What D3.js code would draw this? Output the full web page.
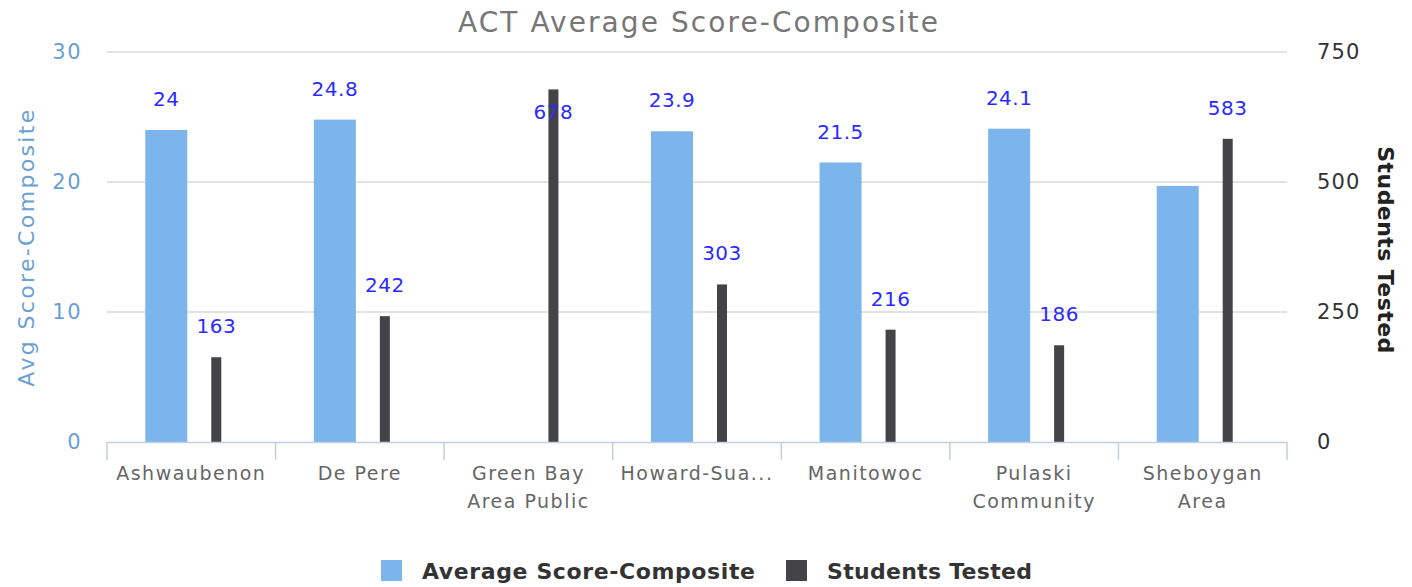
<!DOCTYPE html>
<html>
<head>
<meta charset="utf-8">
<script src="https://cdn.jsdelivr.net/npm/d3@7"></script>
<style>
  html, body { margin: 0; padding: 0; background: #fff; }
  svg { display: block; font-family: "DejaVu Sans", "Open Sans", sans-serif; }
</style>
</head>
<body>
<svg id="chart" width="1412" height="587"></svg>
<script>
// ---- data ----
const categories = ["Ashwaubenon", "De Pere", "Green Bay Area Public", "Howard-Suamico", "Manitowoc", "Pulaski Community", "Sheboygan Area"];
const avgScore = [24, 24.8, null, 23.9, 21.5, 24.1, 19.7];
const avgScoreLabelShown = [true, true, false, true, true, true, false];
const studentsTested = [163, 242, 678, 303, 216, 186, 583];
const leftTicks = [0, 10, 20, 30];
const rightTicks = [0, 250, 500, 750];
const seriesNames = ["Average Score-Composite", "Students Tested"];
const title = "ACT Average Score-Composite";
const leftAxisTitle = "Avg Score-Composite";
const rightAxisTitle = "Students Tested";

// ---- layout/style ----
const plot = { left: 107, right: 1287, top: 52, bottom: 442 };
const colors = { avg: "#7cb5ec", students: "#434348", label: "#2b2bff", leftAxis: "#6a9fd4", grid: "#d9d9d9", axisLine: "#c0d0e0" };

const svg = d3.select("#chart");

// stretch text to a target width with letter-spacing
function fitWidth(sel, target) {
  const node = sel.node();
  const n = sel.text().length;
  const w = node.getComputedTextLength();
  sel.attr("letter-spacing", ((target - w) / Math.max(1, n - 1)).toFixed(2));
  return sel;
}

const x = d3.scaleBand().domain(categories).range([plot.left, plot.right]).padding(0);
const xs = d3.scaleBand().domain(seriesNames).range([0, x.bandwidth()]).paddingInner(0).paddingOuter(0.686);
const yL = d3.scaleLinear().domain([0, 30]).range([plot.bottom, plot.top]);
const yR = d3.scaleLinear().domain([0, 750]).range([plot.bottom, plot.top]);

// gridlines
svg.append("g").selectAll("line").data(leftTicks.filter(t => t > 0)).join("line")
  .attr("x1", plot.left).attr("x2", plot.right)
  .attr("y1", d => yL(d)).attr("y2", d => yL(d))
  .attr("stroke", colors.grid).attr("stroke-width", 1.5);

// left axis
const gL = svg.append("g").attr("transform", `translate(${plot.left},0)`)
  .call(d3.axisLeft(yL).tickValues(leftTicks).tickSize(0).tickPadding(25));
gL.select(".domain").remove();
gL.selectAll("text").attr("fill", colors.leftAxis).attr("font-size", 21).attr("letter-spacing", 1.5).attr("font-family", "DejaVu Sans");

// right axis
const gR = svg.append("g").attr("transform", `translate(${plot.right},0)`)
  .call(d3.axisRight(yR).tickValues(rightTicks).tickSize(0).tickPadding(30));
gR.select(".domain").remove();
gR.selectAll("text").attr("fill", "#333").attr("font-size", 21).attr("letter-spacing", 1.2).attr("font-family", "DejaVu Sans");

// bars
const barWAvg = 42, barWStu = 10;
const avgData = categories.map((c, i) => ({ c, v: avgScore[i], show: avgScoreLabelShown[i] })).filter(d => d.v != null);
svg.append("g").selectAll("rect").data(avgData).join("rect")
  .attr("x", d => x(d.c) + xs(seriesNames[0]) + xs.bandwidth() / 2 - barWAvg / 2)
  .attr("width", barWAvg)
  .attr("y", d => yL(d.v))
  .attr("height", d => yL(0) - yL(d.v))
  .attr("fill", colors.avg);

const stuData = categories.map((c, i) => ({ c, v: studentsTested[i] }));
svg.append("g").selectAll("rect").data(stuData).join("rect")
  .attr("x", d => x(d.c) + xs(seriesNames[1]) + xs.bandwidth() / 2 - barWStu / 2)
  .attr("width", barWStu)
  .attr("y", d => yR(d.v))
  .attr("height", d => yR(0) - yR(d.v))
  .attr("fill", colors.students);

// x axis line & ticks
svg.append("line").attr("x1", plot.left).attr("x2", plot.right)
  .attr("y1", plot.bottom + 0.5).attr("y2", plot.bottom + 0.5)
  .attr("stroke", colors.axisLine).attr("stroke-width", 1.5);
const tickXs = categories.map(c => x(c)).concat([plot.right]);
svg.append("g").selectAll("line").data(tickXs).join("line")
  .attr("x1", d => d).attr("x2", d => d)
  .attr("y1", plot.bottom).attr("y2", plot.bottom + 18)
  .attr("stroke", colors.axisLine).attr("stroke-width", 1.5);

// data labels
function labelY(top) {
  let ly = top - 31;
  if (ly - 10 < plot.top) ly = top + 23;
  return ly;
}
const lblG = svg.append("g").attr("fill", colors.label).attr("font-size", 20).attr("text-anchor", "middle").attr("letter-spacing", 0.5);
lblG.selectAll("text.a").data(avgData.filter(d => d.show)).join("text").attr("class", "a")
  .attr("x", d => x(d.c) + xs(seriesNames[0]) + xs.bandwidth() / 2)
  .attr("y", d => labelY(yL(d.v))).attr("dy", "0.35em")
  .text(d => d.v);
lblG.selectAll("text.s").data(stuData).join("text").attr("class", "s")
  .attr("x", d => x(d.c) + xs(seriesNames[1]) + xs.bandwidth() / 2)
  .attr("y", d => labelY(yR(d.v))).attr("dy", "0.35em")
  .text(d => d.v);

// x labels with wrapping / ellipsis
const maxW = 156;
const xLab = svg.append("g").attr("fill", "#666").attr("font-size", 19).attr("letter-spacing", 1.5).attr("text-anchor", "middle");
categories.forEach(c => {
  const cx = x(c) + x.bandwidth() / 2;
  const t = xLab.append("text").attr("x", cx).attr("y", 480);
  const probe = t.append("tspan");
  const fits = s => { probe.text(s); return probe.node().getComputedTextLength() <= maxW; };
  const words = c.split(" ");
  const lines = [];
  let cur = "";
  words.forEach(w => {
    const cand = cur ? cur + " " + w : w;
    if (fits(cand) || !cur) cur = cand; else { lines.push(cur); cur = w; }
  });
  if (cur) lines.push(cur);
  const final = lines.map(l => {
    if (fits(l)) return l;
    let s = l;
    while (s.length > 1 && !fits(s + "...")) s = s.slice(0, -1);
    return s + "...";
  });
  probe.remove();
  final.forEach((l, i) => t.append("tspan").attr("x", cx).attr("dy", i ? 28 : 0).text(l));
});

// title
fitWidth(svg.append("text").attr("x", 699).attr("y", 32)
  .attr("text-anchor", "middle").attr("fill", "#777").attr("font-size", 28).text(title), 480);

// axis titles
fitWidth(svg.append("text").attr("transform", `translate(34,${(plot.top + plot.bottom) / 2}) rotate(-90)`)
  .attr("text-anchor", "middle").attr("fill", colors.leftAxis).attr("font-size", 22).text(leftAxisTitle), 277);
fitWidth(svg.append("text").attr("transform", `translate(1378,${(plot.top + plot.bottom) / 2 + 3}) rotate(90)`)
  .attr("text-anchor", "middle").attr("fill", "#222").attr("font-size", 22).attr("font-weight", 600).text(rightAxisTitle), 207);

// legend
const leg = svg.append("g").attr("font-size", 22).attr("fill", "#333").attr("font-weight", 600);
const legItems = [{ name: seriesNames[0], color: colors.avg, w: 333 }, { name: seriesNames[1], color: colors.students, w: 205 }];
let lx = 381;
legItems.forEach(it => {
  leg.append("rect").attr("x", lx).attr("y", 560).attr("width", 21).attr("height", 21).attr("fill", it.color);
  fitWidth(leg.append("text").attr("x", lx + 41).attr("y", 579).text(it.name), it.w);
  lx += 41 + it.w + 365 - 333 - 1;
});
</script>
</body>
</html>
